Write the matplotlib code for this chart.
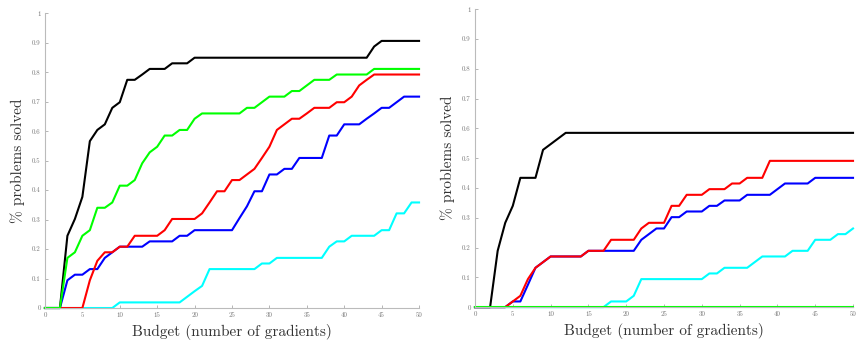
import matplotlib
matplotlib.use("Agg")
import matplotlib.pyplot as plt
import numpy as np

budget = np.arange(51)

# left panel
left_black = [0, 0, 0, .245, .302, .377, .566, .604, .623, .679,
              .698, .774, .774, .792, .811, .811, .811, .830, .830, .830,
              .849, .849, .849, .849, .849, .849, .849, .849, .849, .849,
              .849, .849, .849, .849, .849, .849, .849, .849, .849, .849,
              .849, .849, .849, .849, .887, .906, .906, .906, .906, .906,
              .906]
left_green = [0, 0, 0, .170, .189, .245, .264, .340, .340, .358,
              .415, .415, .434, .491, .528, .547, .585, .585, .604, .604,
              .642, .660, .660, .660, .660, .660, .660, .679, .679, .698,
              .717, .717, .717, .736, .736, .755, .774, .774, .774, .792,
              .792, .792, .792, .792, .811, .811, .811, .811, .811, .811,
              .811]
left_red = [0, 0, 0, 0, 0, 0, .094, .160, .189, .189,
            .208, .208, .245, .245, .245, .245, .264, .302, .302, .302,
            .302, .321, .358, .396, .396, .434, .434, .453, .472, .509,
            .547, .604, .623, .642, .642, .660, .679, .679, .679, .698,
            .698, .717, .755, .774, .792, .792, .792, .792, .792, .792,
            .792]
left_blue = [0, 0, 0, .094, .113, .113, .132, .132, .170, .189,
             .208, .208, .208, .208, .226, .226, .226, .226, .245, .245,
             .264, .264, .264, .264, .264, .264, .305, .345, .396, .396,
             .453, .453, .472, .472, .509, .509, .509, .509, .585, .585,
             .623, .623, .623, .642, .660, .679, .679, .698, .717, .717,
             .717]
left_cyan = [0, 0, 0, 0, 0, 0, 0, 0, 0, 0,
             .019, .019, .019, .019, .019, .019, .019, .019, .019, .038,
             .057, .075, .132, .132, .132, .132, .132, .132, .132, .151,
             .151, .170, .170, .170, .170, .170, .170, .170, .208, .226,
             .226, .245, .245, .245, .245, .264, .264, .321, .321, .358,
             .358]

# right panel
right_black = [0, 0, 0, .189, .283, .340, .434, .434, .434, .528,
               .547, .566, .585, .585, .585, .585, .585, .585, .585, .585,
               .585, .585, .585, .585, .585, .585, .585, .585, .585, .585,
               .585, .585, .585, .585, .585, .585, .585, .585, .585, .585,
               .585, .585, .585, .585, .585, .585, .585, .585, .585, .585,
               .585]
right_green = [0] * 51
right_red = [0, 0, 0, 0, 0, .019, .038, .094, .132, .151,
             .170, .170, .170, .170, .170, .189, .189, .189, .226, .226,
             .226, .226, .264, .283, .283, .283, .340, .340, .377, .377,
             .377, .396, .396, .396, .415, .415, .434, .434, .434, .491,
             .491, .491, .491, .491, .491, .491, .491, .491, .491, .491,
             .491]
right_blue = [0, 0, 0, 0, 0, .019, .019, .075, .132, .151,
              .170, .170, .170, .170, .170, .189, .189, .189, .189, .189,
              .189, .189, .226, .245, .264, .264, .302, .302, .321, .321,
              .321, .340, .340, .358, .358, .358, .377, .377, .377, .377,
              .396, .415, .415, .415, .415, .434, .434, .434, .434, .434,
              .434]
right_cyan = [0, 0, 0, 0, 0, 0, 0, 0, 0, 0,
              0, 0, 0, 0, 0, 0, 0, 0, .019, .019,
              .019, .038, .094, .094, .094, .094, .094, .094, .094, .094,
              .094, .113, .113, .132, .132, .132, .132, .151, .170, .170,
              .170, .170, .189, .189, .189, .226, .226, .226, .245, .245,
              .264]

xticks = range(0, 51, 5)
yticks = np.round(np.arange(0, 1.01, 0.1), 1)
ytick_labels = ['0'] + ['%.1f' % v for v in yticks[1:-1]] + ['1']

plt.rcParams['font.family'] = ['cmr10', 'DejaVu Serif']
plt.rcParams['axes.unicode_minus'] = False

fig = plt.figure(figsize=(8.58, 3.42), dpi=100)
ax1 = fig.add_axes([0.0524, 0.0994, 0.436, 0.862])
ax2 = fig.add_axes([0.5536, 0.102, 0.4406, 0.871])

panels = [
    (ax1, left_cyan, left_blue, left_red, left_black, left_green),
    (ax2, right_cyan, right_blue, right_red, right_black, right_green),
]
for ax, cy, bl, rd, bk, gr in panels:
    for vals, col in [(cy, '#00ffff'), (bl, '#0000ff'), (rd, '#ff0000'),
                      (bk, '#000000'), (gr, '#00ff00')]:
        ax.plot(budget, vals, color=col, lw=1.5, clip_on=False)
    ax.set_xlim(0, 50)
    ax.set_ylim(0, 1)
    ax.set_xticks(xticks)
    ax.set_xticklabels([str(t) for t in xticks])
    ax.set_yticks(yticks)
    ax.set_yticklabels(ytick_labels)
    ax.tick_params(direction='in', length=2.5, width=0.6, color='#aaaaaa',
                   labelsize=5, labelcolor='#777777', pad=3)
    ax.spines.right.set_visible(False)
    ax.spines.top.set_visible(False)
    for s in ['left', 'bottom']:
        ax.spines[s].set_color('#bbbbbb')
        ax.spines[s].set_linewidth(0.8)
    ax.set_xlabel('Budget (number of gradients)', fontsize=11, color='#333333', labelpad=4)
    ax.set_ylabel('% problems solved', fontsize=11, color='#333333', labelpad=5)

fig.savefig('out.png', dpi=100)
